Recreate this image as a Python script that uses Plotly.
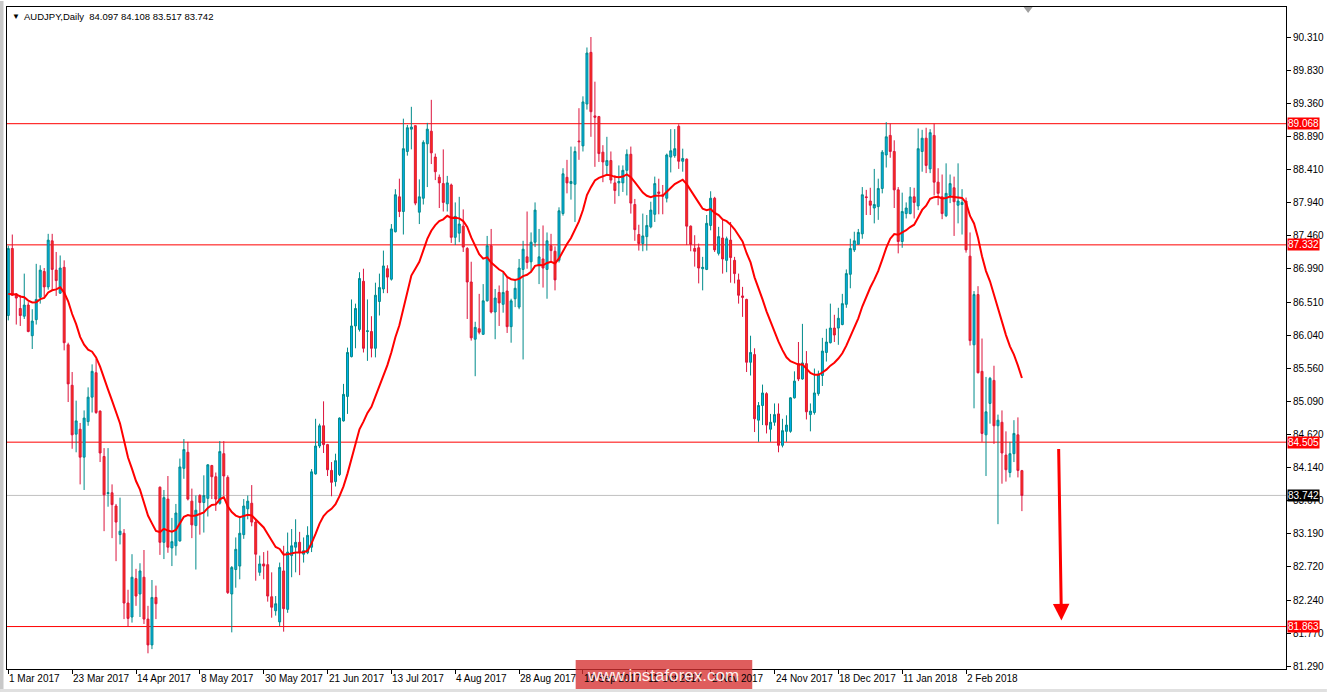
import plotly.graph_objects as go
import pandas as pd

# ---------------- data ----------------
symbol_title = "AUDJPY,Daily  84.097 84.108 83.517 83.742"

date_labels = ["1 Mar 2017", "23 Mar 2017", "14 Apr 2017", "8 May 2017", "30 May 2017",
               "21 Jun 2017", "13 Jul 2017", "4 Aug 2017", "28 Aug 2017", "19 Sep 2017",
               "11 Oct 2017", "2 Nov 2017", "24 Nov 2017", "18 Dec 2017", "11 Jan 2018",
               "2 Feb 2018"]
date_label_bars = [0, 16, 32, 48, 64, 80, 96, 112, 128, 144, 160, 176, 192, 208, 224, 240]

opens = [86.32, 87.28, 86.63, 86.42, 86.31, 86.47, 86.03, 86.26, 86.58, 86.95,
         86.73, 87.39, 86.97, 86.64, 87.01, 85.90, 85.32, 84.62, 84.69, 84.29,
         84.80, 85.15, 85.50, 84.95, 84.30, 83.77, 83.78, 83.59, 83.18, 83.20,
         82.20, 82.00, 82.55, 82.33, 82.57, 81.97, 81.60, 82.28, 83.86, 83.07,
         83.69, 82.99, 83.02, 83.09, 84.13, 84.36, 83.66, 83.31, 83.74, 83.64,
         83.70, 84.17, 84.01, 83.63, 84.34, 84.00, 82.33, 82.68, 82.73, 83.18,
         83.55, 83.63, 83.36, 82.64, 82.76, 82.75, 82.29, 82.09, 81.93, 82.66,
         82.11, 82.88, 83.00, 83.07, 82.90, 82.92, 83.00, 84.05, 84.45, 84.74,
         84.47, 84.10, 83.94, 84.04, 84.81, 85.16, 85.73, 86.17, 86.12, 86.81,
         86.09, 86.09, 85.85, 86.52, 86.70, 86.99, 86.84, 87.52, 88.02, 87.81,
         88.67, 88.99, 89.04, 87.80, 88.00, 88.78, 88.96, 88.59, 88.30, 88.21,
         87.92, 88.19, 87.44, 87.50, 87.60, 87.28, 86.80, 85.98, 86.13, 86.05,
         86.53, 87.32, 86.37, 86.65, 86.48, 86.67, 86.16, 86.56, 86.44, 86.98,
         87.16, 87.09, 87.37, 87.04, 87.13, 86.98, 87.32, 87.24, 87.11, 87.78,
         88.30, 88.21, 88.20, 88.82, 88.75, 89.35, 90.09, 89.18, 89.17, 88.66,
         88.47, 88.54, 88.22, 88.22, 88.22, 88.40, 88.63, 87.91, 87.48, 87.35,
         87.45, 87.59, 87.77, 88.09, 88.05, 88.00, 88.59, 88.61, 89.03, 88.53,
         88.56, 87.60, 87.28, 87.29, 86.99, 86.98, 87.61, 88.00, 87.21, 87.43,
         87.11, 87.40, 87.11, 86.83, 86.60, 86.55, 85.65, 85.76, 84.82, 85.03,
         85.20, 84.69, 84.79, 84.91, 84.46, 84.66, 84.66, 85.14, 85.63, 85.41,
         85.63, 84.90, 84.93, 85.20, 85.46, 85.79, 85.93, 86.14, 86.14, 86.19,
         86.48, 86.91, 87.26, 87.34, 87.49, 88.02, 87.96, 87.86, 87.88, 88.14,
         88.62, 88.90, 88.67, 88.12, 87.38, 87.78, 87.78, 88.02, 87.89, 88.67,
         88.86, 88.42, 88.90, 88.23, 88.02, 87.75, 88.04, 88.15, 87.90, 87.91,
         87.96, 87.17, 85.90, 86.62, 85.52, 84.61, 85.06, 85.39, 84.74, 84.79,
         84.32, 84.07, 84.34, 84.61, 84.097]

highs = [87.32, 87.48, 86.64, 86.61, 86.92, 86.51, 86.41, 87.06, 87.04, 87.00,
         87.49, 87.49, 87.23, 87.18, 87.11, 85.93, 85.51, 85.10, 84.78, 84.96,
         85.29, 85.62, 85.70, 84.96, 84.42, 84.42, 83.90, 83.62, 83.71, 83.26,
         82.39, 82.90, 82.69, 82.77, 82.96, 82.16, 82.53, 82.45, 83.87, 83.82,
         84.02, 83.42, 83.62, 84.27, 84.55, 84.51, 83.84, 83.74, 83.76, 84.03,
         84.19, 84.18, 84.07, 84.52, 84.52, 84.03, 82.73, 83.14, 83.43, 83.69,
         83.74, 83.89, 83.40, 82.88, 82.93, 82.95, 82.64, 82.30, 82.78, 83.02,
         83.21, 83.26, 83.40, 83.22, 83.14, 83.30, 84.12, 84.84, 84.77, 85.09,
         84.48, 84.22, 84.34, 84.86, 85.34, 85.86, 86.55, 86.49, 86.94, 86.99,
         86.55, 86.31, 86.79, 86.92, 87.25, 87.04, 87.63, 88.13, 88.28, 89.14,
         89.05, 89.31, 89.04, 88.27, 88.83, 89.08, 89.41, 88.64, 88.34, 88.70,
         88.32, 88.21, 87.94, 88.02, 87.84, 87.30, 87.09, 86.23, 86.63, 86.77,
         87.46, 87.56, 86.70, 86.75, 86.94, 86.87, 86.56, 86.84, 87.13, 87.39,
         87.81, 87.51, 87.94, 87.56, 87.61, 87.51, 87.49, 87.31, 87.87, 88.43,
         88.55, 88.74, 88.74, 89.29, 89.46, 90.16, 90.31, 89.67, 89.18, 88.76,
         88.88, 88.67, 88.33, 88.47, 88.47, 88.70, 88.74, 87.99, 87.62, 87.78,
         87.76, 87.95, 88.31, 88.28, 88.19, 88.64, 88.99, 88.99, 89.06, 88.71,
         88.57, 87.61, 87.47, 87.35, 87.16, 87.76, 88.10, 88.02, 87.59, 87.69,
         87.45, 87.66, 87.16, 86.92, 86.73, 86.56, 86.03, 85.85, 85.08, 85.33,
         85.22, 84.91, 85.06, 85.06, 84.84, 84.89, 85.15, 85.52, 85.94, 86.20,
         85.81, 85.06, 85.56, 85.53, 86.00, 86.13, 86.49, 86.33, 86.43, 86.63,
         86.98, 87.42, 87.52, 87.56, 88.16, 88.12, 88.15, 88.42, 88.28, 88.69,
         89.09, 89.07, 88.83, 88.16, 88.08, 87.94, 88.16, 88.15, 89.00, 88.98,
         89.01, 88.99, 89.07, 88.43, 88.34, 88.50, 88.34, 88.31, 88.50, 88.13,
         88.01, 87.51, 86.67, 86.74, 85.99, 85.44, 85.44, 85.60, 84.90, 84.96,
         84.66, 84.51, 84.82, 84.86, 84.108]

lows = [86.25, 86.60, 86.19, 86.17, 86.27, 86.08, 85.84, 86.19, 86.49, 86.58,
        86.69, 86.68, 86.60, 86.63, 85.82, 85.08, 84.41, 84.36, 83.90, 83.82,
        84.74, 84.93, 84.91, 84.22, 83.23, 83.58, 83.13, 82.80, 83.04, 81.97,
        81.86, 81.92, 82.16, 82.00, 81.90, 81.48, 81.54, 81.97, 82.89, 82.83,
        82.92, 82.73, 82.88, 83.08, 83.98, 83.67, 83.13, 82.68, 83.18, 83.21,
        83.44, 83.69, 83.52, 83.61, 83.74, 82.33, 81.78, 82.42, 82.54, 83.12,
        83.40, 83.30, 82.52, 82.59, 82.54, 82.22, 81.99, 82.02, 81.87, 81.79,
        82.06, 82.57, 82.64, 82.60, 82.78, 82.90, 82.93, 84.04, 84.42, 84.35,
        84.02, 83.73, 83.87, 84.02, 84.80, 84.91, 85.72, 85.85, 86.09, 85.79,
        85.67, 85.72, 85.72, 86.32, 86.64, 86.64, 86.82, 87.51, 87.73, 87.48,
        88.61, 88.70, 87.90, 87.63, 87.91, 88.16, 88.49, 88.26, 87.86, 87.81,
        87.81, 87.36, 87.33, 87.37, 87.23, 86.27, 85.96, 85.45, 86.05, 86.04,
        86.52, 86.35, 85.98, 86.17, 86.36, 86.07, 85.93, 86.44, 86.41, 85.69,
        86.99, 86.94, 87.30, 86.77, 86.72, 86.56, 87.08, 86.68, 87.08, 87.75,
        88.07, 87.98, 87.66, 88.55, 88.67, 89.27, 88.88, 88.45, 88.52, 88.23,
        88.33, 88.21, 87.92, 88.03, 88.09, 88.04, 87.78, 87.39, 87.25, 87.24,
        87.25, 87.57, 87.66, 87.77, 87.77, 87.94, 88.37, 88.58, 88.42, 88.38,
        87.33, 87.24, 87.02, 86.78, 86.68, 86.97, 87.54, 87.23, 87.18, 86.92,
        86.94, 86.79, 86.78, 86.49, 86.30, 85.51, 85.46, 84.65, 84.51, 84.75,
        84.63, 84.51, 84.74, 84.36, 84.43, 84.51, 84.64, 85.13, 85.38, 85.40,
        84.83, 84.66, 84.90, 85.17, 85.31, 85.66, 85.92, 85.94, 85.90, 86.18,
        86.43, 86.71, 87.23, 87.33, 87.42, 87.76, 87.76, 87.64, 87.69, 88.07,
        88.44, 88.58, 87.86, 87.21, 87.29, 87.71, 87.77, 87.71, 87.83, 88.38,
        88.36, 88.36, 88.04, 87.90, 87.70, 87.73, 87.93, 87.46, 87.64, 87.48,
        87.22, 85.89, 84.99, 85.49, 84.51, 84.02, 84.77, 84.48, 83.33, 83.91,
        83.94, 84.00, 84.22, 84.00, 83.517]

closes = [87.28, 86.61, 86.57, 86.32, 86.47, 86.09, 86.24, 86.55, 86.97, 86.73,
          87.40, 86.98, 86.82, 87.00, 85.93, 85.34, 84.61, 84.81, 84.29, 84.85,
          85.15, 85.52, 84.93, 84.35, 83.75, 83.78, 83.61, 83.36, 83.23, 82.20,
          81.98, 82.57, 82.30, 82.66, 81.97, 81.60, 82.28, 82.19, 83.07, 83.71,
          83.00, 83.08, 83.49, 84.15, 84.40, 83.69, 83.32, 83.53, 83.64, 83.74,
          84.18, 84.01, 83.69, 84.37, 84.02, 82.35, 82.71, 82.97, 83.20, 83.59,
          83.66, 83.36, 82.90, 82.76, 82.73, 82.30, 82.14, 82.19, 82.71, 82.12,
          82.93, 83.02, 83.07, 82.93, 82.95, 83.17, 84.08, 84.45, 84.74, 84.47,
          84.11, 83.93, 84.24, 84.85, 85.19, 85.79, 86.17, 86.42, 86.85, 85.85,
          86.10, 85.85, 86.61, 86.72, 87.03, 86.87, 87.56, 88.05, 87.81, 88.71,
          89.01, 89.02, 87.93, 88.02, 88.80, 88.99, 88.65, 88.38, 88.22, 87.94,
          88.22, 87.44, 87.74, 87.63, 87.30, 86.80, 86.00, 86.15, 86.08, 86.53,
          87.32, 86.37, 86.57, 86.50, 86.65, 86.16, 86.53, 86.71, 87.00, 87.27,
          87.08, 87.37, 87.83, 87.16, 87.00, 87.39, 87.25, 86.83, 87.82, 88.35,
          88.22, 88.24, 88.67, 88.81, 89.38, 90.08, 89.24, 89.16, 88.64, 88.52,
          88.54, 88.26, 88.11, 88.24, 88.40, 88.63, 87.93, 87.55, 87.35, 87.46,
          87.61, 87.83, 88.21, 88.07, 88.03, 88.62, 88.68, 88.71, 88.53, 88.57,
          87.60, 87.34, 87.24, 87.00, 87.01, 87.64, 88.00, 87.26, 87.45, 87.13,
          87.42, 87.15, 86.92, 86.61, 86.58, 85.65, 85.79, 84.84, 85.03, 85.21,
          84.75, 84.79, 84.90, 84.46, 84.67, 84.75, 85.14, 85.38, 85.41, 85.64,
          84.94, 84.95, 85.21, 85.48, 85.81, 85.94, 86.14, 86.04, 86.28, 86.49,
          86.92, 87.28, 87.39, 87.51, 88.05, 88.01, 87.90, 87.91, 88.14, 88.66,
          88.88, 88.67, 88.12, 87.38, 87.81, 87.86, 88.02, 87.94, 88.71, 88.86,
          88.47, 88.94, 88.23, 88.07, 87.78, 88.07, 88.21, 87.95, 87.96, 87.94,
          87.26, 85.96, 86.62, 85.50, 84.63, 84.94, 85.42, 84.74, 84.82, 84.35,
          84.11, 84.34, 84.63, 84.10, 83.742]

# moving average indicator (EMA 20 of closes), started from the value shown at the left edge
ma_period = 20
ma_start_value = 86.56

# horizontal levels drawn on the chart
level_prices = [89.068, 87.332, 84.505, 81.863]
level_labels = ["89.068", "87.332", "84.505", "81.863"]
last_price = 83.742
last_price_label = "83.742"

# right price-axis tick labels
ytick_labels = ["81.290", "81.770", "82.240", "82.720", "83.190", "83.670", "84.140",
                "84.620", "85.090", "85.560", "86.040", "86.510", "86.990", "87.460",
                "87.940", "88.410", "88.890", "89.360", "89.830", "90.310"]

# forecast arrow (bar position / price of tail and head)
arrow_tail = (263.2, 84.43)
arrow_head = (263.9, 81.95)

watermark_text = "www.instaforex.com"

# ---------------- build ----------------
FONT = "Liberation Sans, Arial, sans-serif"
bars = list(range(len(closes)))
ma_values = (pd.Series([ma_start_value] + closes)
             .ewm(span=ma_period, adjust=False).mean().iloc[1:].tolist())

W, H = 1330, 692
ML, MR, MT, MB = 7, 41, 6, 23
plot_w = W - ML - MR
plot_h = H - MT - MB
bar_px = 4.0
x_first_px = 8.3
x_range = [(ML - x_first_px) / bar_px, (W - MR - x_first_px) / bar_px]
y_range = [81.255, 90.74]

fig = go.Figure()

fig.add_trace(go.Candlestick(
    x=bars, open=opens, high=highs, low=lows, close=closes,
    increasing=dict(line=dict(color="#008B8B", width=1), fillcolor="#00AEEF"),
    decreasing=dict(line=dict(color="#DC143C", width=1), fillcolor="#FF3311"),
    whiskerwidth=0, showlegend=False, hoverinfo="skip",
))

fig.add_trace(go.Scatter(
    x=bars, y=ma_values, mode="lines",
    line=dict(color="#FF0000", width=2), showlegend=False, hoverinfo="skip",
))

shapes = []
for p in level_prices:
    shapes.append(dict(type="line", xref="paper", yref="y", x0=0, x1=1, y0=p, y1=p,
                       line=dict(color="#FF0000", width=1), layer="below"))
shapes.append(dict(type="line", xref="paper", yref="y", x0=0, x1=1, y0=last_price, y1=last_price,
                   line=dict(color="#C0C0C0", width=1), layer="below"))


def px_to_paper_x(px):
    return (px - ML) / plot_w


def py_to_paper_y(py):
    return (H - MB - py) / plot_h


# watermark box
shapes.append(dict(type="rect", xref="paper", yref="paper",
                   x0=px_to_paper_x(577), x1=px_to_paper_x(754),
                   y0=py_to_paper_y(691), y1=py_to_paper_y(660),
                   fillcolor="rgba(214,48,48,0.78)", line=dict(width=0), layer="above"))
# chart-shift marker at top
shapes.append(dict(type="path", xref="paper", yref="paper",
                   path="M {a} {t} L {b} {t} L {c} {u} Z".format(
                       a=px_to_paper_x(1026), b=px_to_paper_x(1035), c=px_to_paper_x(1030.5),
                       t=py_to_paper_y(6), u=py_to_paper_y(12)),
                   fillcolor="#A0A0A0", line=dict(width=0)))
# window edges
shapes.append(dict(type="rect", xref="paper", yref="paper",
                   x0=px_to_paper_x(0), x1=px_to_paper_x(3.5), y0=py_to_paper_y(692), y1=py_to_paper_y(0),
                   fillcolor="#C8C8C8", line=dict(width=0)))
shapes.append(dict(type="rect", xref="paper", yref="paper",
                   x0=px_to_paper_x(0), x1=px_to_paper_x(1330), y0=py_to_paper_y(692), y1=py_to_paper_y(689),
                   fillcolor="#E0E0E0", line=dict(width=0)))

annotations = []
# date labels
for b, t in zip(date_label_bars, date_labels):
    annotations.append(dict(x=b, y=0, xref="x", yref="paper", text=t, showarrow=False,
                            xanchor="left", yanchor="top", yshift=-2, xshift=-1,
                            font=dict(family=FONT, size=10, color="#000000")))
# level price tags
for p, t in zip(level_prices, level_labels):
    annotations.append(dict(x=1, y=p, xref="paper", yref="y", text=t, showarrow=False,
                            xanchor="left", yanchor="middle", xshift=1,
                            bgcolor="#FF0000", borderpad=0,
                            font=dict(family=FONT, size=10, color="#FFFFFF")))
annotations.append(dict(x=1, y=last_price, xref="paper", yref="y", text=last_price_label,
                        showarrow=False, xanchor="left", yanchor="middle", xshift=1,
                        bgcolor="#000000", borderpad=0,
                        font=dict(family=FONT, size=10, color="#FFFFFF")))
# title
annotations.append(dict(x=0, y=1, xref="paper", yref="paper", text="\u25BC", showarrow=False,
                        xanchor="left", yanchor="middle", xshift=3, yshift=-9,
                        font=dict(family=FONT, size=8, color="#000000")))
annotations.append(dict(x=0, y=1, xref="paper", yref="paper", text=symbol_title, showarrow=False,
                        xanchor="left", yanchor="middle", xshift=15, yshift=-9,
                        font=dict(family=FONT, size=9.5, color="#000000")))
# arrow
annotations.append(dict(x=arrow_head[0], y=arrow_head[1], ax=arrow_tail[0], ay=arrow_tail[1],
                        xref="x", yref="y", axref="x", ayref="y", text="", showarrow=True,
                        arrowhead=2, arrowsize=1.1, arrowwidth=3, arrowcolor="#FF0000"))
# watermark text
annotations.append(dict(x=px_to_paper_x(665), y=py_to_paper_y(676), xref="paper", yref="paper",
                        text=watermark_text, showarrow=False, xanchor="center", yanchor="middle",
                        font=dict(family=FONT, size=17, color="rgba(255,255,255,0.92)")))

fig.update_layout(
    width=W, height=H,
    margin=dict(l=ML, r=MR, t=MT, b=MB, pad=0),
    paper_bgcolor="#FFFFFF", plot_bgcolor="#FFFFFF",
    showlegend=False,
    boxgap=0.3, boxgroupgap=0.3,
    shapes=shapes, annotations=annotations,
    xaxis=dict(range=x_range, showgrid=False, zeroline=False, rangeslider=dict(visible=False),
               tickmode="array", tickvals=date_label_bars, ticktext=[""] * len(date_label_bars),
               ticks="outside", ticklen=4, tickcolor="#000000", showticklabels=False,
               showline=True, mirror=True, linecolor="#000000", linewidth=1, fixedrange=True),
    yaxis=dict(range=y_range, side="right", showgrid=False, zeroline=False,
               tickmode="array", tickvals=[float(v) for v in ytick_labels], ticktext=ytick_labels,
               ticks="outside", ticklen=4, tickcolor="#000000",
               tickfont=dict(family=FONT, size=10, color="#000000"),
               showline=True, mirror=True, linecolor="#000000", linewidth=1, fixedrange=True),
)

fig.write_html("out.html", config={"displayModeBar": False},
               post_script="document.body.style.margin='0px';document.body.style.overflow='hidden';")
